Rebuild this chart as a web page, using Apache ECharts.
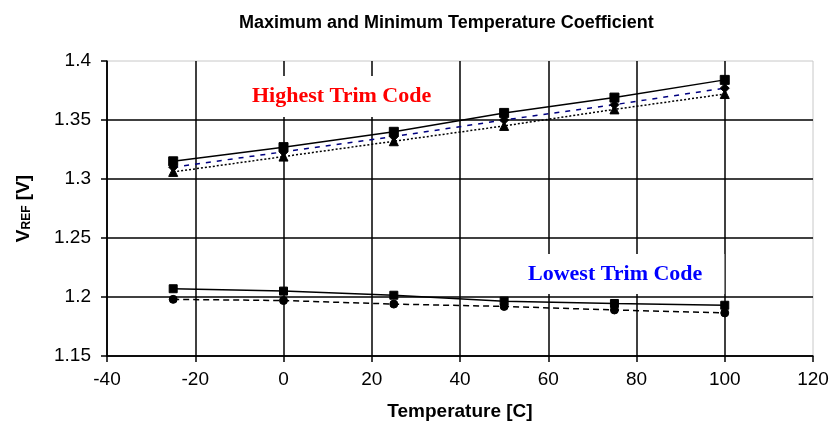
<!DOCTYPE html>
<html>
<head>
<meta charset="utf-8">
<title>Maximum and Minimum Temperature Coefficient</title>
<script src="https://cdn.jsdelivr.net/npm/echarts@6/dist/echarts.min.js"></script>
<style>
  html, body { margin: 0; padding: 0; background: #fff; }
  #chart { width: 833px; height: 439px; }
</style>
</head>
<body>
<div id="chart"></div>
<script>
// temperatures (C) where each trim code was measured
var temps = [-25, 0, 25, 50, 75, 100]

// highest trim code, three units
var highSolid = [1.315, 1.327, 1.340, 1.356, 1.369, 1.384]
var highDashed = [1.310, 1.323, 1.336, 1.350, 1.363, 1.377]
var highDotted = [1.306, 1.319, 1.332, 1.345, 1.359, 1.372]

// lowest trim code
var lowSolid = [1.207, 1.205, 1.2015, 1.1965, 1.1945, 1.193]
var lowDashed = [1.198, 1.197, 1.194, 1.192, 1.189, 1.1865]

var xTicks = [-40, -20, 0, 20, 40, 60, 80, 100, 120]
var yTicks = [1.15, 1.2, 1.25, 1.3, 1.35, 1.4]

var sansFont = '"Liberation Sans Narrow", "Liberation Sans", Arial, sans-serif'
var serifFont = '"Liberation Serif", "Times New Roman", serif'

function pairs(vals) {
  var out = []
  for (var i = 0; i < temps.length; i++) {
    out.push([temps[i], vals[i]])
  }
  return out
}

function makeSeries(name, vals, lineType, lineColor, symbol, symbolSize) {
  return {
    name: name,
    type: 'line',
    data: pairs(vals),
    symbol: symbol,
    symbolSize: symbolSize,
    itemStyle: { color: '#000', borderColor: '#000' },
    lineStyle: { color: lineColor, width: 1.5, type: lineType },
    emphasis: { disabled: true },
    z: 5
  }
}

var chart = echarts.init(document.getElementById('chart'), null, { renderer: 'canvas' })

chart.setOption({
  animation: false,
  backgroundColor: '#fff',
  title: {
    text: 'Maximum and Minimum Temperature Coefficient',
    left: 234,
    top: 9,
    textStyle: { fontFamily: sansFont, fontSize: 18, fontWeight: 'bold', color: '#000' }
  },
  grid: {
    left: 107,
    right: 20,
    top: 61,
    bottom: 83,
    show: true,
    borderColor: '#c8c8c8',
    borderWidth: 1
  },
  xAxis: {
    type: 'value',
    min: xTicks[0],
    max: xTicks[xTicks.length - 1],
    interval: 20,
    name: 'Temperature [C]',
    nameLocation: 'middle',
    nameGap: 46,
    nameTextStyle: { fontFamily: sansFont, fontSize: 19, fontWeight: 'bold', color: '#000' },
    axisLine: { show: true, onZero: false, lineStyle: { color: '#000', width: 1.5 } },
    axisTick: { show: true, length: 6, lineStyle: { color: '#000', width: 1.5 } },
    axisLabel: { margin: 14, fontFamily: sansFont, fontSize: 19, color: '#000' },
    splitLine: { show: true, showMaxLine: false, lineStyle: { color: '#000', width: 1.5 } }
  },
  yAxis: {
    type: 'value',
    min: yTicks[0],
    max: yTicks[yTicks.length - 1],
    interval: 0.05,
    name: '{v|V}{s|REF}{v| [V]}',
    nameLocation: 'middle',
    nameGap: 74,
    nameRotate: 90,
    nameTextStyle: {
      rich: {
        v: { fontFamily: sansFont, fontSize: 19, fontWeight: 'bold', color: '#000' },
        s: { fontFamily: sansFont, fontSize: 12, fontWeight: 'bold', color: '#000', verticalAlign: 'bottom', padding: [6, 0, 0, 0] }
      }
    },
    axisLine: { show: true, onZero: false, lineStyle: { color: '#000', width: 1.5 } },
    axisTick: { show: true, length: 6, lineStyle: { color: '#000', width: 1.5 } },
    axisLabel: {
      margin: 16,
      fontFamily: sansFont,
      fontSize: 19,
      color: '#000',
      formatter: function(v) { return String(Math.round(v * 100) / 100) }
    },
    splitLine: { show: true, showMaxLine: false, lineStyle: { color: '#000', width: 1.5 } }
  },
  graphic: [
    {
      type: 'text',
      left: 240,
      top: 76,
      z: 50,
      style: {
        text: 'Highest Trim Code',
        font: 'bold 22px ' + serifFont,
        fill: '#ff0000',
        backgroundColor: '#fff',
        padding: [9, 12, 10, 12]
      }
    },
    {
      type: 'text',
      left: 508,
      top: 254,
      z: 50,
      style: {
        text: 'Lowest Trim Code',
        font: 'bold 22px ' + serifFont,
        fill: '#0000ff',
        backgroundColor: '#fff',
        padding: [9, 22, 9, 20]
      }
    }
  ],
  series: [
    makeSeries('High A', highSolid, 'solid', '#000', 'rect', 9),
    makeSeries('High B', highDashed, [5, 6], '#000080', 'diamond', 9),
    makeSeries('High C', highDotted, [2, 2], '#000', 'triangle', 9),
    makeSeries('Low A', lowSolid, 'solid', '#000', 'rect', 8),
    makeSeries('Low B', lowDashed, [6, 4], '#000', 'circle', 8)
  ]
})
</script>
</body>
</html>
